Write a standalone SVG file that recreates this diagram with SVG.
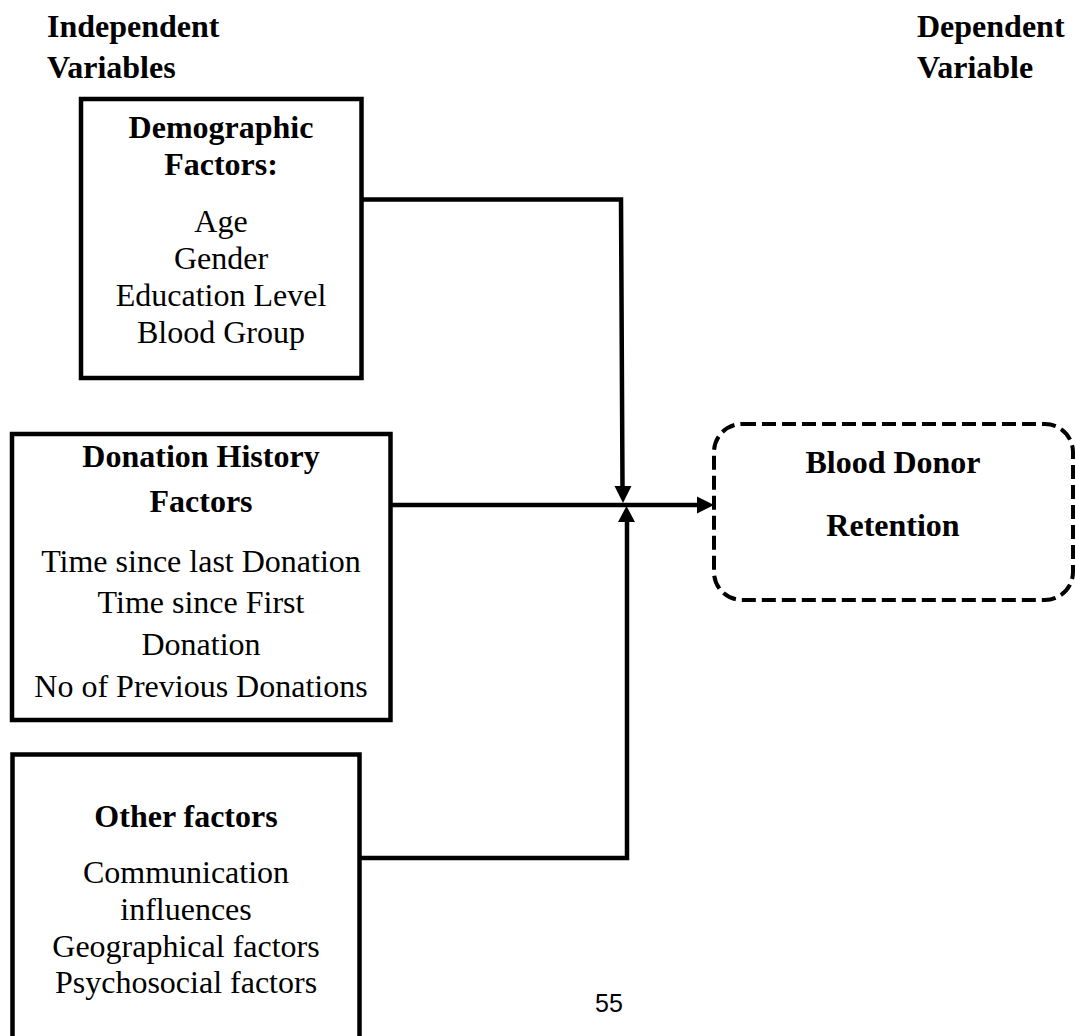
<svg xmlns="http://www.w3.org/2000/svg" width="1076" height="1036" viewBox="0 0 1076 1036">
<style>
  .bg { fill: #ffffff; }
  .box { fill: #ffffff; stroke: #000000; stroke-width: 4.5; }
  .dashed { fill: #ffffff; stroke: #000000; stroke-width: 4; stroke-dasharray: 14 6; }
  .line { fill: none; stroke: #000000; stroke-width: 4.5; }
  .head { fill: #000000; }
  text { font-family: "Liberation Serif", "Times New Roman", serif; font-size: 32px; fill: #000000; }
  .b { font-weight: bold; }
  .c { text-anchor: middle; }
  .pg { font-family: "Liberation Sans", Arial, sans-serif; font-size: 25px; }
</style>
<rect class="bg" x="0" y="0" width="1076" height="1036"/>

<g id="header-independent">
  <text class="b" x="47" y="37">Independent</text>
  <text class="b" x="47" y="78">Variables</text>
</g>
<g id="header-dependent">
  <text class="b" x="917" y="37">Dependent</text>
  <text class="b" x="917" y="78">Variable</text>
</g>

<g id="connectors">
  <path class="line" d="M361,199.5 H621 L622.5,488"/>
  <polygon class="head" points="614.5,486 631.5,486 623,503"/>
  <path class="line" d="M390,505 H699"/>
  <polygon class="head" points="697,496.5 697,513.5 714,505"/>
  <path class="line" d="M359.5,858 H627 V520"/>
  <polygon class="head" points="618,522 635,522 626.5,506"/>
</g>

<g id="node-demographic">
  <rect class="box" x="81" y="99" width="280.5" height="279"/>
  <text class="b c" x="221" y="138">Demographic</text>
  <text class="b c" x="221" y="175">Factors:</text>
  <text class="c" x="221" y="232">Age</text>
  <text class="c" x="221" y="269">Gender</text>
  <text class="c" x="221" y="306">Education Level</text>
  <text class="c" x="221" y="343">Blood Group</text>
</g>

<g id="node-donation-history">
  <rect class="box" x="12" y="434" width="378.5" height="286"/>
  <text class="b c" x="201" y="467">Donation History</text>
  <text class="b c" x="201" y="512">Factors</text>
  <text class="c" x="201" y="572">Time since last Donation</text>
  <text class="c" x="201" y="613">Time since First</text>
  <text class="c" x="201" y="655">Donation</text>
  <text class="c" x="201" y="697">No of Previous Donations</text>
</g>

<g id="node-other">
  <rect class="box" x="12.5" y="754.5" width="347" height="300"/>
  <text class="b c" x="186" y="827">Other factors</text>
  <text class="c" x="186" y="883">Communication</text>
  <text class="c" x="186" y="920">influences</text>
  <text class="c" x="186" y="957">Geographical factors</text>
  <text class="c" x="186" y="993">Psychosocial factors</text>
</g>

<g id="node-retention">
  <rect class="dashed" x="714" y="424" width="359" height="176" rx="28" ry="28"/>
  <text class="b c" x="893" y="473">Blood Donor</text>
  <text class="b c" x="893" y="536">Retention</text>
</g>

<g id="page-number">
  <text class="pg" x="595" y="1012">55</text>
</g>
</svg>
